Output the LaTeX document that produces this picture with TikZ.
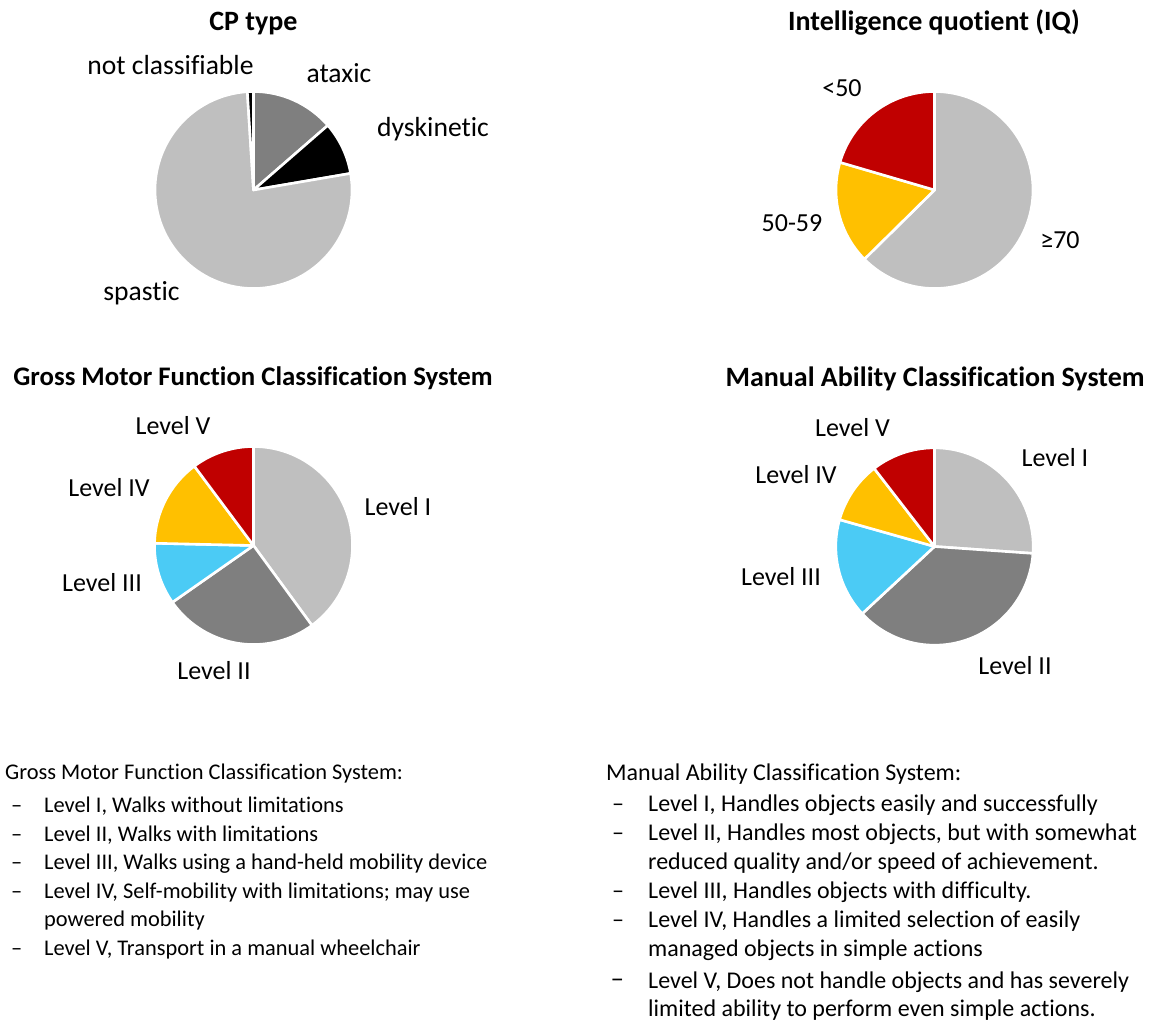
\documentclass[tikz,border=0pt]{standalone}
\usepackage{fontspec}
\setmainfont{Carlito}[Ligatures={NoCommon}]
\definecolor{lgray}{HTML}{BFBFBF}
\definecolor{dgray}{HTML}{7F7F7F}
\definecolor{pred}{HTML}{C00000}
\definecolor{pyel}{HTML}{FFC000}
\definecolor{pblue}{HTML}{4BCBF5}
\newcommand\pslice[5]{\filldraw[slice, fill=#5] (#1) -- ++(#3:#2) arc[start angle=#3, end angle=#4, radius=#2] -- cycle;}
\begin{document}
\begin{tikzpicture}[x=1pt,y=1pt,
  slice/.style={draw=white, line width=2.6pt, line join=round},
  lab/.style={font=\fontsize{26}{31}\selectfont, anchor=base, inner sep=0pt},
  ttl/.style={font=\fontsize{28}{33}\selectfont\bfseries, anchor=base, inner sep=0pt},
  txt/.style={font=\fontsize{22.4}{27}\selectfont, anchor=base west, inner sep=0pt},
  txr/.style={font=\fontsize{24}{29}\selectfont, anchor=base west, inner sep=0pt}]
\useasboundingbox (0,0) rectangle (1153,-1023);
\fill[white] (0,0) rectangle (1153,-1023);
% ---------- CP type
\coordinate (cpC) at (253.5,-190);
\pslice{cpC}{98.5pt}{90}{41}{dgray}
\pslice{cpC}{98.5pt}{41}{9.7}{black}
\pslice{cpC}{98.5pt}{9.7}{-266.4}{lgray}
\pslice{cpC}{98.5pt}{-266.4}{-270}{black}
\node[ttl] (cpT) at (253.5,-30) {CP type};
\node[lab, font=\fontsize{27.6}{32}\selectfont] (cpN) at (170.5,-74) {not classifiable};
\node[lab, font=\fontsize{27.6}{32}\selectfont] (cpA) at (339,-82.5) {ataxic};
\node[lab, font=\fontsize{27.6}{32}\selectfont] (cpD) at (433,-136.5) {dyskinetic};
\node[lab, font=\fontsize{27.6}{32}\selectfont] (cpS) at (141.5,-300) {spastic};
% ---------- IQ
\coordinate (iqC) at (934.5,-190);
\pslice{iqC}{98.5pt}{90}{-135.4}{lgray}
\pslice{iqC}{98.5pt}{-135.4}{-196.3}{pyel}
\pslice{iqC}{98.5pt}{-196.3}{-270}{pred}
\node[ttl] (iqT) at (934,-30) {Intelligence quotient (IQ)};
\node[lab] (iqA) at (842,-96) {<50};
\node[lab] (iqB) at (792,-231) {50-59};
\node[lab] (iqD) at (1060,-248) {≥70};
% ---------- GMFCS
\coordinate (gmC) at (253.5,-545.5);
\pslice{gmC}{99pt}{90}{-53.8}{lgray}
\pslice{gmC}{99pt}{-53.8}{-145}{dgray}
\pslice{gmC}{99pt}{-145}{-181.3}{pblue}
\pslice{gmC}{99pt}{-181.3}{-233.3}{pyel}
\pslice{gmC}{99pt}{-233.3}{-270}{pred}
\node[ttl, font=\fontsize{26.8}{32}\selectfont\bfseries] (gmT) at (253,-385) {Gross Motor Function Classification System};
\node[lab] (gm5) at (173,-434.5) {Level V};
\node[lab] (gm4) at (109,-496.5) {Level IV};
\node[lab] (gm1) at (398,-515.5) {Level I};
\node[lab] (gm3) at (102,-591.5) {Level III};
\node[lab] (gm2) at (214,-679.5) {Level II};
% ---------- MACS
\coordinate (maC) at (934.5,-546.5);
\pslice{maC}{98.7pt}{90}{-4}{lgray}
\pslice{maC}{98.7pt}{-4}{-137.1}{dgray}
\pslice{maC}{98.7pt}{-137.1}{-195.8}{pblue}
\pslice{maC}{98.7pt}{-195.8}{-232.3}{pyel}
\pslice{maC}{98.7pt}{-232.3}{-270}{pred}
\node[ttl] (maT) at (935,-386) {Manual Ability Classification System};
\node[lab] (ma5) at (852.5,-436.5) {Level V};
\node[lab] (ma1) at (1055,-466.5) {Level I};
\node[lab] (ma4) at (796,-483.5) {Level IV};
\node[lab] (ma3) at (781,-585.5) {Level III};
\node[lab] (ma2) at (1015,-674.5) {Level II};
% ---------- left text
\node[txt] (gtT) at (5,-779) {Gross Motor Function Classification System:};
\node[txt] (gd1) at (11,-812) {–};
\node[txt] (gt1) at (44,-812) {Level I, Walks without limitations};
\node[txt] (gd2) at (11,-841) {–};
\node[txt] (gt2) at (44,-841) {Level II, Walks with limitations};
\node[txt] (gd3) at (11,-869.5) {–};
\node[txt] (gt3) at (44,-869.5) {Level III, Walks using a hand-held mobility device};
\node[txt] (gd4) at (11,-898) {–};
\node[txt] (gt4) at (44,-898) {Level IV, Self-mobility with limitations; may use};
\node[txt] (gt4b) at (44,-926.5) {powered mobility};
\node[txt] (gd5) at (11,-955) {–};
\node[txt] (gt5) at (44,-955) {Level V, Transport in a manual wheelchair};
% ---------- right text
\node[txr] (mtT) at (606,-780) {Manual Ability Classification System:};
\node[txr] (md1) at (612,-811.7) {–};
\node[txr] (mt1) at (648,-811.7) {Level I, Handles objects easily and successfully};
\node[txr] (md2) at (612,-840.5) {–};
\node[txr] (mt2) at (648,-840.5) {Level II, Handles most objects, but with somewhat};
\node[txr] (mt2b) at (648,-869.5) {reduced quality and/or speed of achievement.};
\node[txr] (md3) at (612,-898.3) {–};
\node[txr] (mt3) at (648,-898.3) {Level III, Handles objects with difficulty.};
\node[txr] (md4) at (612,-927) {–};
\node[txr] (mt4) at (648,-927) {Level IV, Handles a limited selection of easily};
\node[txr] (mt4b) at (648,-956) {managed objects in simple actions};
\node[txr, font=\fontsize{27}{30}\selectfont] (md5) at (610.5,-987) {–};
\node[txr] (mt5) at (648,-988.3) {Level V, Does not handle objects and has severely};
\node[txr] (mt5b) at (648,-1016.7) {limited ability to perform even simple actions.};
\end{tikzpicture}
\end{document}
